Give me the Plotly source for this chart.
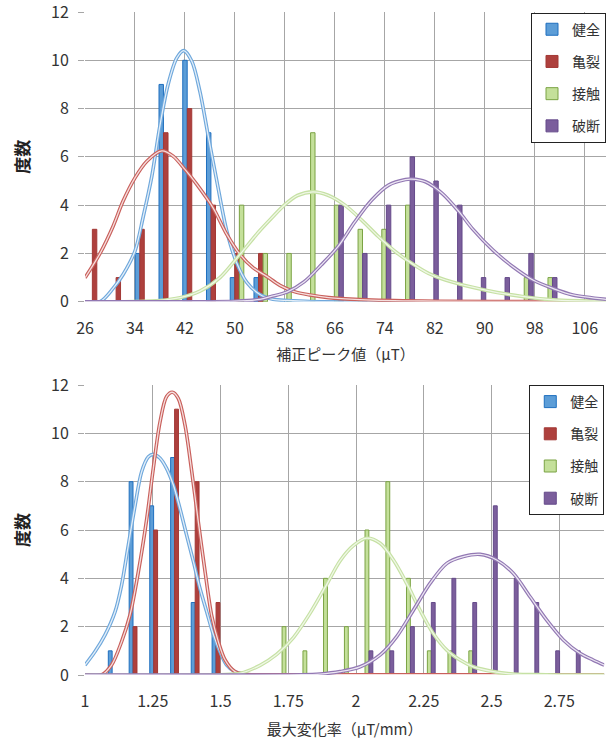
import plotly.graph_objects as go

# ---------------- data ----------------
series_names = ["健全", "亀裂", "接触", "破断"]

# top chart: 補正ピーク値 (μT) histogram
top_bins = [27.9, 31.7, 35.5, 39.3, 43.1, 46.9, 50.7, 54.5, 58.3, 62.1,
            65.9, 69.7, 73.5, 77.3, 81.1, 84.9, 88.7, 92.5, 96.3, 100.1]
top_kenzen = [0, 0, 2, 9, 10, 7, 1, 1, 0, 0, 0, 0, 0, 0, 0, 0, 0, 0, 0, 0]
top_kiretsu = [3, 1, 3, 7, 8, 4, 2, 2, 0, 0, 0, 0, 0, 0, 0, 0, 0, 0, 0, 0]
top_sesshoku = [0, 0, 0, 0, 0, 0, 4, 2, 2, 7, 4, 3, 3, 4, 0, 0, 0, 0, 1, 1]
top_hadan = [0, 0, 0, 0, 0, 0, 0, 0, 0, 0, 4, 2, 4, 6, 5, 4, 1, 1, 2, 1]

# fitted curves of the top chart
top_kenzen_cx = [26, 28.4, 30.5, 32.1, 34.0, 35.3, 36.7, 38.0, 39.3, 40.7, 41.8, 43.1,
                 44.4, 45.7, 47.1, 48.7, 50.3, 51.9, 54.0, 56.1, 58.4, 62, 109.4]
top_kenzen_cy = [0, 0, 0.55, 1.13, 2.1, 3.5, 5.2, 7.3, 9.0, 10.1, 10.4, 9.96,
                 8.7, 6.9, 5.0, 2.92, 1.6, 0.8, 0.3, 0.1, 0.05, 0.01, 0]
top_kiretsu_cx = [26, 28.4, 30.5, 32.1, 34.0, 35.9, 38.3, 40.1, 42.0, 43.9, 46.5, 48.7,
                  50.8, 52.9, 55.1, 57.2, 59.5, 62.0, 65.0, 70.0, 80.0, 109.4]
top_kiretsu_cy = [0.99, 2.0, 3.13, 4.17, 5.13, 5.82, 6.25, 6.03, 5.48, 4.86, 3.89, 2.79,
                  1.96, 1.41, 1.05, 0.68, 0.42, 0.28, 0.17, 0.09, 0.03, 0.01]
top_sesshoku_cx = [26, 34, 38, 41.2, 44.4, 47.6, 50.8, 54.0, 55.7, 57.9, 60.0, 62.5, 64.9,
                   67.6, 70.3, 73.0, 75.7, 78.3, 81.0, 83.7, 88.0, 92.0, 96.0, 101.0, 109.4]
top_sesshoku_cy = [0, 0.01, 0.05, 0.17, 0.44, 1.0, 1.96, 2.95, 3.42, 4.0, 4.4, 4.55, 4.41,
                   4.0, 3.38, 2.69, 2.07, 1.59, 1.17, 0.9, 0.6, 0.38, 0.22, 0.08, 0.02]
top_hadan_cx = [26, 45, 50, 54.0, 55.7, 58.4, 61.1, 63.8, 66.5, 69.2, 71.9, 74.6, 77.3,
                78.3, 80.5, 83.2, 85.9, 88.0, 91.3, 94.5, 97.7, 100.9, 104.1, 109.4]
top_hadan_cy = [0, 0, 0.02, 0.1, 0.21, 0.41, 0.83, 1.52, 2.28, 3.31, 4.21, 4.83, 5.06,
                5.08, 4.97, 4.48, 3.72, 3.03, 2.14, 1.45, 0.9, 0.55, 0.28, 0.1]

# bottom chart: 最大変化率 (μT/mm) histogram
bot_bins = [1.115, 1.192, 1.268, 1.345, 1.421, 1.498, 1.574, 1.651, 1.727, 1.804, 1.880,
            1.957, 2.033, 2.110, 2.186, 2.263, 2.339, 2.416, 2.492, 2.569, 2.645, 2.722, 2.798]
bot_kenzen = [1, 8, 7, 9, 3, 2, 0, 0, 0, 0, 0, 0, 0, 0, 0, 0, 0, 0, 0, 0, 0, 0, 0]
bot_kiretsu = [0, 2, 6, 11, 8, 3, 0, 0, 0, 0, 0, 0, 0, 0, 0, 0, 0, 0, 0, 0, 0, 0, 0]
bot_sesshoku = [0, 0, 0, 0, 0, 0, 0, 0, 2, 1, 4, 2, 6, 8, 4, 1, 1, 1, 0, 0, 0, 0, 0]
bot_hadan = [0, 0, 0, 0, 0, 0, 0, 0, 0, 0, 0, 0, 1, 1, 2, 3, 4, 3, 7, 4, 3, 1, 1]

bot_kenzen_cx = [1.0, 1.037, 1.074, 1.111, 1.135, 1.16, 1.185, 1.209, 1.234, 1.252, 1.277,
                 1.301, 1.326, 1.35, 1.375, 1.4, 1.424, 1.449, 1.474, 1.498, 1.523, 1.553,
                 1.59, 1.65, 2.916]
bot_kenzen_cy = [0.41, 0.97, 1.66, 2.62, 3.72, 5.38, 7.03, 8.41, 9.03, 9.13, 8.97,
                 8.55, 7.86, 6.9, 5.79, 4.69, 3.59, 2.62, 1.66, 0.97, 0.41, 0.14,
                 0.03, 0, 0]
bot_kiretsu_cx = [1.0, 1.061, 1.098, 1.135, 1.166, 1.197, 1.228, 1.252, 1.277, 1.301, 1.322,
                  1.344, 1.369, 1.394, 1.418, 1.443, 1.467, 1.492, 1.517, 1.553, 1.59, 1.65, 2.916]
bot_kiretsu_cy = [0, 0, 0.41, 1.38, 2.48, 4.28, 6.48, 8.55, 10.48, 11.52, 11.7,
                  11.45, 10.34, 8.41, 6.34, 4.28, 2.48, 1.38, 0.62, 0.14, 0.03, 0.01, 0.01]
bot_sesshoku_cx = [1.0, 1.5, 1.572, 1.646, 1.707, 1.769, 1.83, 1.892, 1.941, 1.99, 2.039,
                   2.089, 2.138, 2.187, 2.236, 2.285, 2.335, 2.384, 2.433, 2.507, 2.58, 2.7, 2.916]
bot_sesshoku_cy = [0, 0.01, 0.07, 0.4, 0.85, 1.55, 2.55, 3.75, 4.72, 5.35, 5.66,
                   5.45, 4.76, 3.79, 2.69, 1.72, 1.03, 0.62, 0.34, 0.14, 0.04, 0.01, 0]
bot_hadan_cx = [1.0, 1.8, 1.867, 1.941, 2.015, 2.089, 2.15, 2.212, 2.273, 2.335, 2.396,
                2.458, 2.519, 2.58, 2.642, 2.703, 2.765, 2.826, 2.875, 2.916]
bot_hadan_cy = [0, 0.01, 0.04, 0.14, 0.34, 0.83, 1.59, 2.69, 3.79, 4.62, 4.9,
                4.99, 4.76, 4.21, 3.24, 2.28, 1.45, 0.9, 0.62, 0.41]

top_xticks = [26, 34, 42, 50, 58, 66, 74, 82, 90, 98, 106]
bot_xticks = [1, 1.25, 1.5, 1.75, 2, 2.25, 2.5, 2.75]
bot_xticklabels = ["1", "1.25", "1.5", "1.75", "2", "2.25", "2.5", "2.75"]
y_ticks = [0, 2, 4, 6, 8, 10, 12]

# ---------------- styles ----------------
FONT = "Noto Sans CJK JP"
bar_fill = ["#5C9DD7", "#AE403D", "#C4E09A", "#7B5E9C"]
bar_line = ["#1F6FBF", "#A23835", "#7BA344", "#654A8A"]
curve_outer = ["#6FA8DC", "#C9605C", "#C6E1A4", "#9278B3"]
curve_inner = ["#E3EEF8", "#F5DEDD", "#EFF7E6", "#ECE6F3"]

fig = go.Figure()


def nz(vals):
    return [v if v else None for v in vals]


def add_panel(bins, counts, curves, xa, ya, legend_name):
    for i, (name, c) in enumerate(zip(series_names, counts)):
        fig.add_trace(go.Bar(
            x=bins, y=nz(c), name=name, xaxis=xa, yaxis=ya,
            marker=dict(color=bar_fill[i], line=dict(color=bar_line[i], width=1)),
            legend=legend_name, legendgroup=legend_name + name,
            hoverinfo="x+y+name",
        ))
    for i, (cx, cy) in enumerate(curves):
        fig.add_trace(go.Scatter(
            x=cx, y=cy, mode="lines", xaxis=xa, yaxis=ya, showlegend=False,
            line=dict(color=curve_outer[i], width=3.6, shape="spline", smoothing=0.9),
            hoverinfo="skip"))
        fig.add_trace(go.Scatter(
            x=cx, y=cy, mode="lines", xaxis=xa, yaxis=ya, showlegend=False,
            line=dict(color=curve_inner[i], width=1.3, shape="spline", smoothing=0.9),
            hoverinfo="skip"))


add_panel(top_bins, [top_kenzen, top_kiretsu, top_sesshoku, top_hadan],
          [(top_kenzen_cx, top_kenzen_cy), (top_kiretsu_cx, top_kiretsu_cy),
           (top_sesshoku_cx, top_sesshoku_cy), (top_hadan_cx, top_hadan_cy)],
          "x", "y", "legend")
add_panel(bot_bins, [bot_kenzen, bot_kiretsu, bot_sesshoku, bot_hadan],
          [(bot_kenzen_cx, bot_kenzen_cy), (bot_kiretsu_cx, bot_kiretsu_cy),
           (bot_sesshoku_cx, bot_sesshoku_cy), (bot_hadan_cx, bot_hadan_cy)],
          "x2", "y2", "legend2")

GRID = "#A6A6A6"
TICKFONT = dict(family=FONT, size=16, color="#333333")
TITLEFONT = dict(family=FONT, size=15, color="#333333")

xcommon = dict(showgrid=True, gridcolor=GRID, gridwidth=1, zeroline=False,
               showline=False, ticks="outside", ticklen=12, automargin=False,
               tickcolor="rgba(0,0,0,0)", tickfont=TICKFONT, ticklabeloverflow="allow")
ycommon = dict(showgrid=True, gridcolor=GRID, gridwidth=1, zeroline=False,
               showline=False, ticks="outside", ticklen=6, tickcolor=GRID,
               tickvals=y_ticks, range=[0, 12], tickfont=TICKFONT,
               ticklabelstandoff=6, automargin=False, ticklabeloverflow="allow",
               title=dict(text="<b>度数</b>", font=dict(family=FONT, size=17, color="#222222"),
                          standoff=17))

legend_common = dict(xanchor="right", yanchor="top",
                     bordercolor="#222222", borderwidth=1, bgcolor="white",
                     font=dict(family=FONT, size=14, color="#333333"),
                     tracegroupgap=11, itemwidth=30)

fig.update_layout(
    width=611, height=744,
    margin=dict(l=85, r=5, t=12, b=69, autoexpand=False),
    paper_bgcolor="white", plot_bgcolor="white",
    barmode="group", bargap=0.23, bargroupgap=0.03,
    font=dict(family=FONT, color="#333333"),
    xaxis=dict(xcommon, domain=[0, 1], anchor="y", range=[26, 109.4],
               tickvals=top_xticks,
               title=dict(text="補正ピーク値（μT）", font=TITLEFONT, standoff=11)),
    yaxis=dict(ycommon, domain=[0.563, 1.0], anchor="x"),
    xaxis2=dict(xcommon, domain=[0, 0.9967], anchor="y2", range=[1, 2.916],
                tickvals=bot_xticks, ticktext=bot_xticklabels,
                title=dict(text="最大変化率（μT/mm）", font=TITLEFONT, standoff=13)),
    yaxis2=dict(ycommon, domain=[0, 0.4374], anchor="x2"),
    legend=dict(legend_common, x=1.0, y=0.999),
    legend2=dict(legend_common, x=0.9967, y=0.4374),
)

fig.write_html("out.html", config={"displayModeBar": False})

# remove the browser's default page margin so the 611x744 figure fills the window
with open("out.html", encoding="utf-8") as f:
    html = f.read()
html = html.replace("<head>", "<head><style>html,body{margin:0;padding:0;overflow:hidden;}</style>", 1)
with open("out.html", "w", encoding="utf-8") as f:
    f.write(html)
